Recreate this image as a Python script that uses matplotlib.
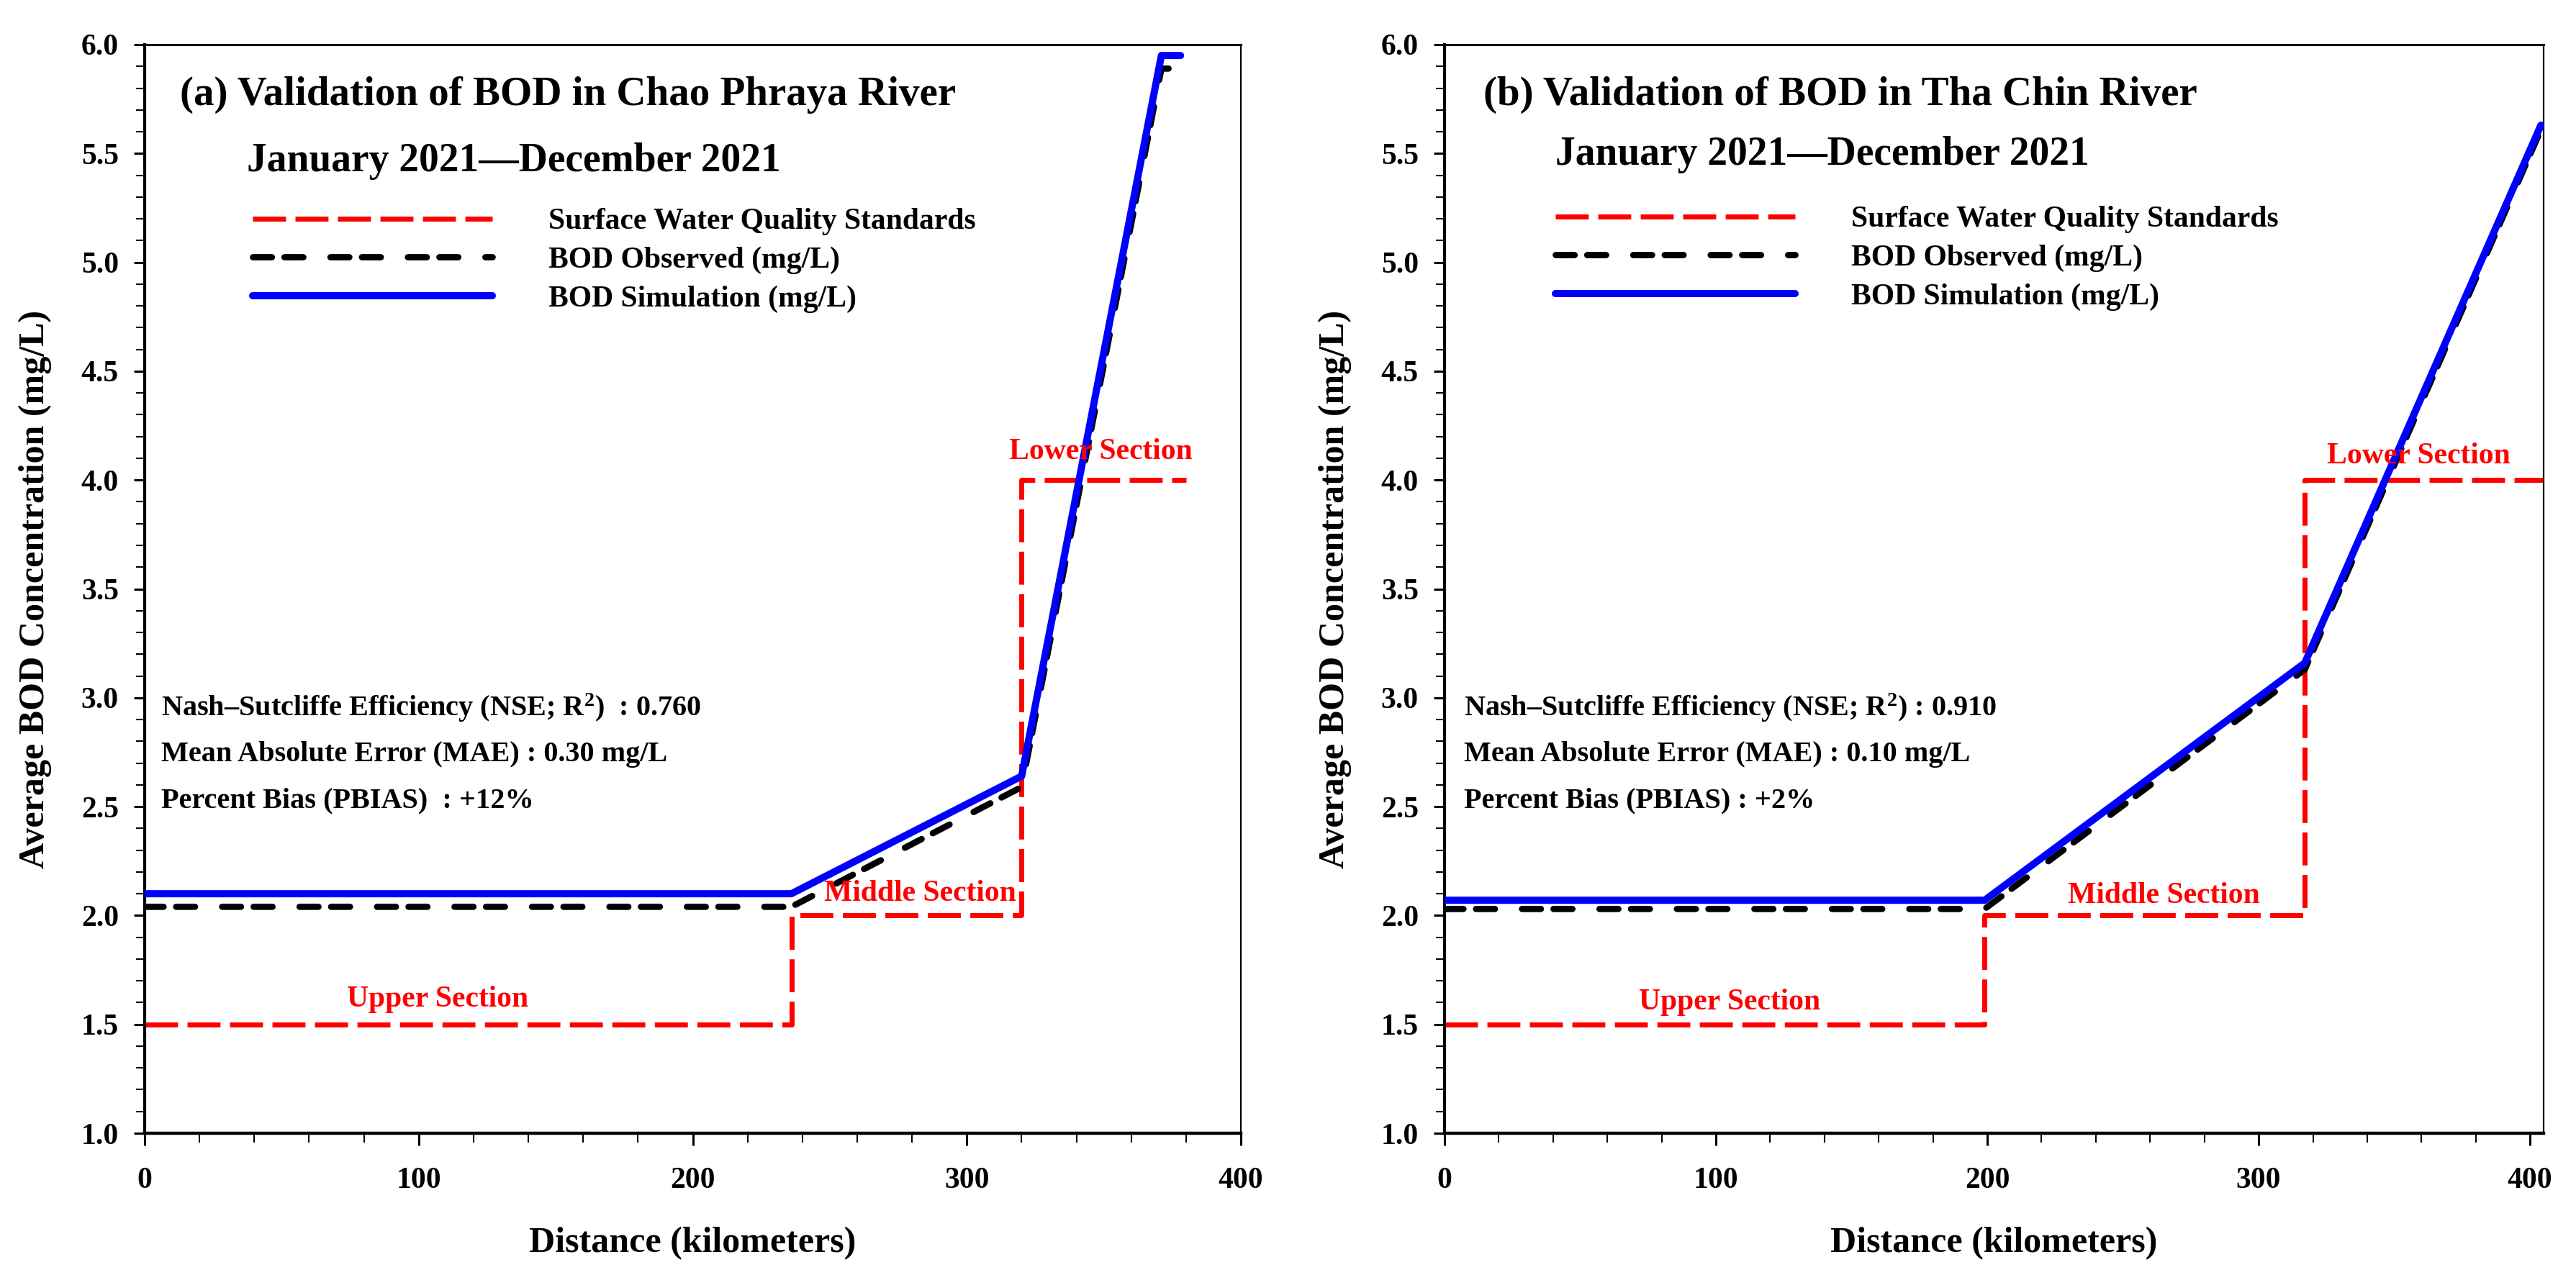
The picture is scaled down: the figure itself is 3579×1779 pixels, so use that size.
import matplotlib
matplotlib.use("Agg")
import matplotlib.pyplot as plt
from matplotlib.ticker import MultipleLocator, FormatStrFormatter

plt.rcParams['font.family'] = ['Liberation Serif', 'DejaVu Serif']
plt.rcParams['font.weight'] = 'bold'
plt.rcParams['mathtext.fontset'] = 'custom'
plt.rcParams['mathtext.rm'] = 'Liberation Serif:bold'
plt.rcParams['mathtext.it'] = 'Liberation Serif:bold'
plt.rcParams['mathtext.bf'] = 'Liberation Serif:bold'
plt.rcParams['mathtext.default'] = 'rm'

# ---------------- data ----------------
# Panel (a) Chao Phraya River
std_dist_a = [0, 236, 236, 320, 320, 380]
std_val_a = [1.5, 1.5, 2.0, 2.0, 4.0, 4.0]
obs_dist_a = [0, 236, 320, 371, 378]
obs_val_a = [2.04, 2.04, 2.59, 5.89, 5.89]
sim_dist_a = [0, 236, 320, 371, 378]
sim_val_a = [2.10, 2.10, 2.64, 5.95, 5.95]

# Panel (b) Tha Chin River
std_dist_b = [0, 199, 199, 317, 317, 405]
std_val_b = [1.5, 1.5, 2.0, 2.0, 4.0, 4.0]
obs_dist_b = [0, 199, 317, 403]
obs_val_b = [2.03, 2.03, 3.13, 5.58]
sim_dist_b = [0, 199, 317, 404]
sim_val_b = [2.07, 2.07, 3.16, 5.63]

titles = ["(a) Validation of BOD in Chao Phraya River",
          "(b) Validation of BOD in Tha Chin River"]
subtitle = "January 2021\u2014December 2021"
legend_labels = ["Surface Water Quality Standards",
                 "BOD Observed (mg/L)",
                 "BOD Simulation (mg/L)"]
stats_a = ["Nash\u2013Sutcliffe Efficiency (NSE; R$^{2}$)  : 0.760",
           "Mean Absolute Error (MAE) : 0.30 mg/L",
           "Percent Bias (PBIAS)  : +12%"]
stats_b = ["Nash\u2013Sutcliffe Efficiency (NSE; R$^{2}$) : 0.910",
           "Mean Absolute Error (MAE) : 0.10 mg/L",
           "Percent Bias (PBIAS) : +2%"]
section_names = ["Upper Section", "Middle Section", "Lower Section"]
section_pos_a = [(107, 1.615), (283, 2.10), (349, 4.13)]
section_pos_b = [(105, 1.60), (265, 2.09), (359, 4.11)]
xmax = [400, 405]

# ---------------- figure ----------------
fig = plt.figure(figsize=(35.79, 17.79), dpi=100)
ax_a = fig.add_axes([201/3579, 1-1575/1779, (1724-201)/3579, (1575-62)/1779])
ax_b = fig.add_axes([2007/3579, 1-1575/1779, (3534-2007)/3579, (1575-62)/1779])

panels = [
    (ax_a, std_dist_a, std_val_a, obs_dist_a, obs_val_a, sim_dist_a, sim_val_a,
     stats_a, section_pos_a),
    (ax_b, std_dist_b, std_val_b, obs_dist_b, obs_val_b, sim_dist_b, sim_val_b,
     stats_b, section_pos_b),
]

title_x = [0.032, 0.0354]
title_y = [0.9445, 0.9445]
sub_x = [0.0932, 0.1008]
sub_y = [0.8837, 0.8896]
leg_x = [0.0985, 0.1008]
leg_y = [0.8500, 0.8520]
stat_x = [0.015, 0.018]
stat_y = [0.3833, 0.3417, 0.2994]

for i, (ax, sd, sv, od, ov, md, mv, stats, spos) in enumerate(panels):
    l1, = ax.plot(sd, sv, color='#ff0000', lw=5.0, dashes=(6.6, 1.9),
                  dash_capstyle='butt', label=legend_labels[0], zorder=2)
    l2, = ax.plot(od, ov, color='black', lw=6.3, dashes=(3.0, 2.0, 3.0, 4.3),
                  dash_capstyle='round', dash_joinstyle='round',
                  label=legend_labels[1], zorder=3)
    l3, = ax.plot(md, mv, color='#0000ff', lw=7.2, solid_capstyle='round',
                  solid_joinstyle='round', label=legend_labels[2], zorder=4)

    ax.set_xlim(0, xmax[i])
    ax.set_ylim(1.0, 6.0)
    ax.xaxis.set_major_locator(MultipleLocator(100))
    ax.xaxis.set_minor_locator(MultipleLocator(20))
    ax.yaxis.set_major_locator(MultipleLocator(0.5))
    ax.yaxis.set_minor_locator(MultipleLocator(0.1))
    ax.yaxis.set_major_formatter(FormatStrFormatter('%.1f'))
    ax.tick_params(which='both', direction='out', top=False, right=False,
                   labelsize=30)
    ax.tick_params(axis='x', which='major', length=12, width=2.2, pad=22)
    ax.tick_params(axis='x', which='minor', length=9, width=1.5)
    ax.tick_params(axis='y', which='major', length=11, width=2.2, pad=15)
    ax.tick_params(axis='y', which='minor', length=8.5, width=1.5)
    for lab in ax.get_xticklabels() + ax.get_yticklabels():
        lab.set_fontweight('bold')

    ax.spines['left'].set_linewidth(3.0)
    ax.spines['bottom'].set_linewidth(3.2)
    ax.spines['top'].set_linewidth(2.2)
    ax.spines['right'].set_linewidth(1.6)

    ax.set_xlabel("Distance (kilometers)", fontsize=36, fontweight='bold')
    ax.set_ylabel("Average BOD Concentration (mg/L)", fontsize=36,
                  fontweight='bold')
    ax.xaxis.set_label_coords(0.5, -0.086)
    ax.yaxis.set_label_coords(-0.0847, 0.5)

    ax.text(title_x[i], title_y[i], titles[i], transform=ax.transAxes,
            fontsize=41, fontweight='bold', ha='left', va='baseline')
    ax.text(sub_x[i], sub_y[i], subtitle, transform=ax.transAxes,
            fontsize=40, fontweight='bold', ha='left', va='baseline')

    ax.legend(handles=[l1, l2, l3], loc='upper left',
              bbox_to_anchor=(leg_x[i], leg_y[i]), frameon=False,
              handlelength=8.0, handletextpad=1.87,
              labelspacing=0.37, borderpad=0, borderaxespad=0,
              prop={'weight': 'bold', 'size': 30})

    for j, s in enumerate(stats):
        ax.text(stat_x[i], stat_y[j], s, transform=ax.transAxes,
                fontsize=29, fontweight='bold', ha='left', va='baseline')

    for name, (px, py) in zip(section_names, spos):
        ax.text(px, py, name, color='#ff0000', fontsize=30,
                fontweight='bold', ha='center', va='center', zorder=5)

fig.savefig("out.png", dpi=100)
